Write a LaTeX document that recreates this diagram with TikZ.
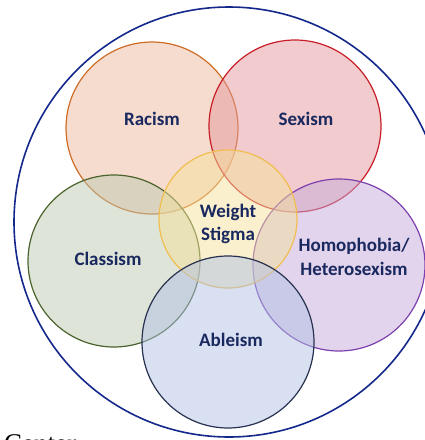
\documentclass[tikz,border=0pt]{standalone}
\usepackage{fontspec}
\setmainfont{Carlito}
\newfontfamily\captionserif{Liberation Serif}
\usetikzlibrary{positioning}
\definecolor{racismcolor}{RGB}{237,185,157}
\definecolor{racismborder}{RGB}{205,110,40}
\definecolor{sexismcolor}{RGB}{227,151,155}
\definecolor{sexismborder}{RGB}{200,30,40}
\definecolor{weightcolor}{RGB}{245,225,155}
\definecolor{weightborder}{RGB}{240,190,80}
\definecolor{classcolor}{RGB}{189,201,175}
\definecolor{classborder}{RGB}{75,100,45}
\definecolor{homocolor}{RGB}{197,169,217}
\definecolor{homoborder}{RGB}{125,65,175}
\definecolor{ablecolor}{RGB}{177,193,229}
\definecolor{ableborder}{RGB}{40,50,80}
\definecolor{outerborder}{RGB}{20,40,140}
\definecolor{textcolor}{RGB}{25,40,95}
\tikzset{
    ring/.style={circle, line width=1.2pt, minimum size=172pt, inner sep=0pt,
        fill opacity=0.5},
    lbl/.style={font=\bfseries\fontsize{19}{23.5}\selectfont, text=textcolor,
        align=center, inner sep=0pt}
}

\begin{document}
\begin{tikzpicture}[x=1pt, y=-1pt]

    \useasboundingbox (0,0) rectangle (425,440);

    \node[circle, draw=outerborder, line width=1.6pt, minimum size=430pt] (outer) at (229,222) {};

    \node[ring, fill=racismcolor, draw=racismborder] (racism) at (152,128) {};
    \node[ring, fill=sexismcolor, draw=sexismborder] (sexism) at (295,126) {};
    \node[ring, fill=classcolor, draw=classborder] (classism) at (114,261) {};
    \node[ring, fill=homocolor, draw=homoborder] (homophobia) at (339,265) {};
    \node[ring, fill=weightcolor, draw=weightborder, minimum size=138pt] (weight) at (228,219) {};
    \node[ring, fill=ablecolor, draw=ableborder] (ableism) at (228,342) {};

    \node[lbl] (racismtxt) at (152,119) {Racism};
    \node[lbl] (sexismtxt) at (306,119) {Sexism};
    \node[lbl] (weighttxt) at (228,224) {Weight\\Stigma};
    \node[lbl] (classismtxt) at (108,259) {Classism};
    \node[lbl] (homophobiatxt) at (354,257) {Homophobia/\\Heterosexism};
    \node[lbl] (ableismtxt) at (231,340) {Ableism};

    \node[anchor=base west, inner sep=0pt, font=\captionserif\fontsize{27}{30}\selectfont] (center) at (4,452) {Center};

\end{tikzpicture}
\end{document}
